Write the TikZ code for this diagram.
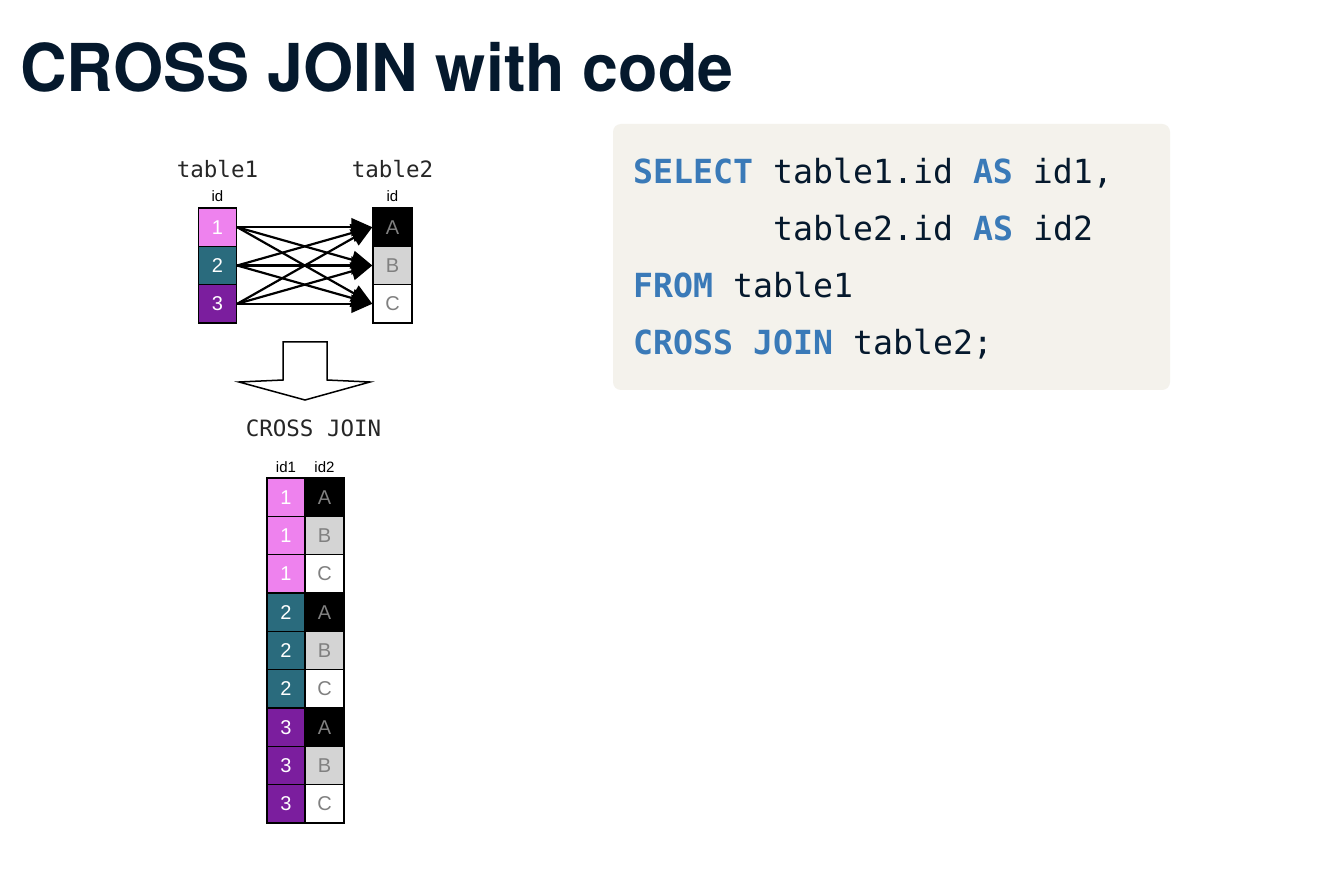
\documentclass[tikz,border=0pt]{standalone}
\usepackage{fontspec}
\usetikzlibrary{arrows.meta}
\newfontfamily\titlefont{TeX Gyre Heros}
\newfontfamily\codefont{DejaVu Sans Mono}
\newfontfamily\cellfont{Liberation Sans}
\definecolor{navy}{HTML}{05192D}
\definecolor{kw}{HTML}{3A7AB8}
\definecolor{codebg}{HTML}{F4F2EC}
\definecolor{cone}{HTML}{EE82EE}
\definecolor{ctwo}{HTML}{2A6B7D}
\definecolor{cthree}{HTML}{7B1E9E}
\definecolor{cB}{HTML}{D4D4D4}
\definecolor{celltext}{HTML}{808080}
\tikzset{
  cell/.style={draw=black, line width=1.4pt, minimum width=38pt, minimum height=38.3pt, inner sep=0pt, font=\cellfont\fontsize{20}{20}\selectfont},
  vone/.style={cell, fill=cone, text=white},
  vtwo/.style={cell, fill=ctwo, text=white},
  vthree/.style={cell, fill=cthree, text=white},
  vA/.style={cell, fill=black, text=celltext},
  vB/.style={cell, fill=cB, text=celltext},
  vC/.style={cell, fill=white, text=celltext},
  conn/.style={line width=2.2pt, -{Triangle[length=21pt,width=18pt]}},
  smalllab/.style={font=\cellfont\fontsize{15}{15}\selectfont, inner sep=0pt},
  monolab/.style={font=\codefont\fontsize{22.5}{22.5}\selectfont, inner sep=0pt, text=black!85},
  codeline/.style={font=\codefont\fontsize{33.2}{33.2}\selectfont, anchor=base west, inner sep=0pt, text=navy},
}
\newcommand{\kwd}[1]{\textcolor{kw}{\bfseries #1}}
\begin{document}
\begin{tikzpicture}[x=1pt,y=-1pt]
\useasboundingbox (0,0) rectangle (1344,882);
\fill[white] (0,0) rectangle (1344,882);
% title
\node[anchor=base west, inner sep=0pt, text=navy, font=\titlefont\bfseries\fontsize{66}{66}\selectfont] (title) at (20,92) {\scalebox{0.978}[1]{CROSS JOIN with code}};
% code box
\fill[codebg, rounded corners=8pt] (613,124) rectangle (1170,390);
\node[codeline] (l1) at (633,184) {\kwd{SELECT} table1.id \kwd{AS} id1,};
\node[codeline] (l2) at (773,241) {table2.id \kwd{AS} id2};
\node[codeline] (l3) at (633,298) {\kwd{FROM} table1};
\node[codeline] (l4) at (633,355) {\kwd{CROSS JOIN} table2;};
% input tables
\node[monolab, anchor=base] (lt1) at (217.5,178) {table1};
\node[monolab, anchor=base] (lt2) at (392.5,178) {table2};
\node[smalllab] (id1) at (217.5,196) {id};
\node[smalllab] (id2) at (392.5,196) {id};
\node[vone] (a1) at (217.5,227.2) {1};
\node[vtwo] (a2) at (217.5,265.5) {2};
\node[vthree] (a3) at (217.5,303.8) {3};
\node[vA, minimum width=39pt] (bA) at (392.5,227.2) {A};
\node[vB, minimum width=39pt] (bB) at (392.5,265.5) {B};
\node[vC, minimum width=39pt] (bC) at (392.5,303.8) {C};
\foreach \s in {a1,a2,a3}{
  \foreach \t in {bA,bB,bC}{
    \draw[conn] (\s.east) -- (\t.west);
  }
}
% block arrow
\draw[line width=1.5pt, line join=miter, fill=white] (283,342) -- (327,342) -- (327,380) -- (370,382) -- (305,400) -- (239,382) -- (283,380) -- cycle;
\node[monolab] (cj) at (313.5,428.5) {CROSS JOIN};
% result table
\node[smalllab] (rid1) at (286,467) {id1};
\node[smalllab] (rid2) at (324.5,467) {id2};
\foreach \i/\l/\n/\r in {1/one/1/A,2/one/1/B,3/one/1/C,4/two/2/A,5/two/2/B,6/two/2/C,7/three/3/A,8/three/3/B,9/three/3/C}{
  \pgfmathsetmacro{\yy}{478+38.33*(\i-0.5)}
  \node[v\l] (r\i l) at (286,\yy) {\n};
  \node[v\r, minimum width=39pt] (r\i r) at (324.5,\yy) {\r};
}
\end{tikzpicture}
\end{document}
